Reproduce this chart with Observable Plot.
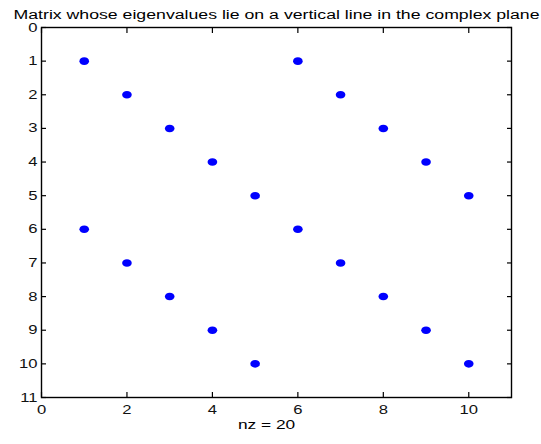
<!DOCTYPE html>
<html><head><meta charset="utf-8">
<script src="https://cdn.jsdelivr.net/npm/d3@7"></script>
<script src="https://cdn.jsdelivr.net/npm/@observablehq/plot@0.6"></script>
<style>body{margin:0;background:#fff;} svg{font-family:"Liberation Sans",Arial,sans-serif;}</style>
</head><body><div id="chart"></div>
<script>
const title = "Matrix whose eigenvalues lie on a vertical line in the complex plane";
const xLabel = "nz = 20";
const cols = [1,2,3,4,5,6,7,8,9,10, 1,2,3,4,5,6,7,8,9,10];
const rows = [1,2,3,4,5,1,2,3,4,5, 6,7,8,9,10,6,7,8,9,10];
const xTicks = [0,2,4,6,8,10];
const yTicks = [0,1,2,3,4,5,6,7,8,9,10,11];
const data = cols.map((c,i)=>({col:c,row:rows[i]}));

// ellipse marker (wider than tall), as in the reference
const ellipse = {
  draw(ctx, size) {
    const r = Math.sqrt(size / Math.PI);
    const rx = r * 1.12, ry = r * 0.88, k = 0.5523;
    ctx.moveTo(rx, 0);
    ctx.bezierCurveTo(rx, ry * k, rx * k, ry, 0, ry);
    ctx.bezierCurveTo(-rx * k, ry, -rx, ry * k, -rx, 0);
    ctx.bezierCurveTo(-rx, -ry * k, -rx * k, -ry, 0, -ry);
    ctx.bezierCurveTo(rx * k, -ry, rx, -ry * k, rx, 0);
    ctx.closePath();
  }
};

const chart = Plot.plot({
  width: 541, height: 444,
  marginLeft: 41, marginRight: 30, marginTop: 27, marginBottom: 47,
  style: {fontSize: "12.5px", fontFamily: "Liberation Sans, Arial, sans-serif", color: "#000", background: "#fff"},
  x: {domain: [0, 11]},
  y: {domain: [0, 11], reverse: true},
  marks: [
    Plot.frame({stroke: "#000", strokeWidth: 1.4}),
    Plot.axisX({anchor: "bottom", ticks: xTicks, tickSize: -5, tickPadding: 13, label: null, fill:"#111", strokeWidth: 1.2}),
    Plot.axisX({anchor: "top", ticks: xTicks, tickSize: -5, tickFormat: () => "", label: null, strokeWidth: 1.2}),
    Plot.axisY({anchor: "left", ticks: yTicks, tickSize: -5, tickPadding: 9, label: null, fill:"#111", strokeWidth: 1.2}),
    Plot.axisY({anchor: "right", ticks: yTicks, tickSize: -5, tickFormat: () => "", label: null, strokeWidth: 1.2}),
    Plot.dot(data, {x: "col", y: "row", r: 4.3, symbol: ellipse, fill: "#0000ff", stroke: null}),
    Plot.text([title], {text: d => d, frameAnchor: "top", dy: -17.5, fontSize: 12, fill: "#000"}),
    Plot.text([xLabel], {text: d => d, frameAnchor: "bottom", dx: -10, dy: 31, fontSize: 13, fill: "#000"})
  ]
});
document.getElementById("chart").appendChild(chart);
// horizontal stretch of the text, as in the reference
chart.querySelectorAll("text").forEach(t => {
  const len = t.getComputedTextLength();
  if (!len) return;
  const isTitle = t.textContent === title;
  t.setAttribute("textLength", isTitle ? 526 : len * 1.33);
  t.setAttribute("lengthAdjust", "spacingAndGlyphs");
});
</script></body></html>
